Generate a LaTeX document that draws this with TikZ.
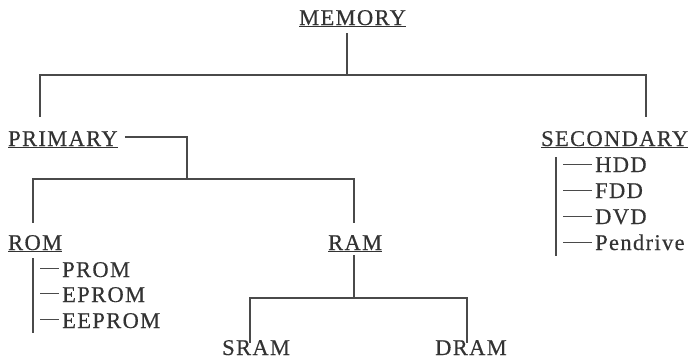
\documentclass[tikz,border=0pt]{standalone}
\usepackage{fontspec}
\usepackage{xcolor}
\usepackage{tikz}
\usetikzlibrary{calc}
\newfontfamily\lblfont{Liberation Serif}[LetterSpace=6, FakeBold=0.4]
\definecolor{inkgray}{HTML}{333333}
\definecolor{linegray}{HTML}{4A4A4A}
\newcommand{\hdline}[1]{\setbox0=\hbox{#1}\rlap{\rule[-2.2pt]{\wd0}{0.9pt}}\box0}

\tikzset{
	lbl/.style={text=inkgray, font=\lblfont\fontsize{22.5}{27}\selectfont, inner sep=0pt, anchor=base west},
	link/.style={draw=linegray, line width=1.1pt},
}

\begin{document}
\begin{tikzpicture}[x=1pt, y=-1pt]
	\path[use as bounding box, fill=white] (0,0) rectangle (698,359);

	% headings
	\node[lbl] (mem) at (299,25) {\hdline{MEMORY}};
	\node[lbl] (pri) at (8,146) {\hdline{PRIMARY}};
	\node[lbl] (sec) at (541,146) {\hdline{SECONDARY}};
	\node[lbl] (rom) at (8,250) {\hdline{ROM}};
	\node[lbl] (ram) at (328,250) {\hdline{RAM}};

	% leaves
	\node[lbl] (prom) at (62,277) {PROM};
	\node[lbl] (eprom) at (62,302) {EPROM};
	\node[lbl] (eeprom) at (62,328) {EEPROM};
	\node[lbl] (sram) at (222,355) {SRAM};
	\node[lbl] (dram) at (435,355) {DRAM};
	\node[lbl] (hdd) at (595,172) {HDD};
	\node[lbl] (fdd) at (595,198) {FDD};
	\node[lbl] (dvd) at (595,224) {DVD};
	\node[lbl] (pen) at (595,250) {Pendrive};

	\coordinate (hub) at (347,75);
	\coordinate (pl) at (40,75);
	\coordinate (pr) at (646,75);
	\coordinate (pb) at (187,179);
	\coordinate (rx) at (33,0);
	\coordinate (rb) at (354,298);
	\coordinate (sl) at (250,0);
	\coordinate (sr) at (467,0);
	\coordinate (sx) at (556,0);

	\draw[link, shorten <=5.8pt] (hub |- mem.south) -- (hub);
	\draw[link, shorten >=14pt] (hub) -| (pl |- pri.north);
	\draw[link, shorten >=14pt] (hub) -| (pr |- sec.north);

	\draw[link, shorten <=7pt] ([yshift=2.7pt]pri.east) -| (pb);
	\draw[link, shorten >=12pt] (pb) -| (rom.north -| rx);
	\draw[link, shorten >=12pt] (pb) -| (ram.north -| rb);

	% ROM list
	\draw[link, shorten <=5.8pt] (rom.south -| rx) -- ++(0,81);
	\foreach \n in {prom, eprom, eeprom}
		\draw[link, shorten <=7pt, shorten >=3pt] ([yshift=1.5pt]\n.west -| rx) -- ([yshift=1.5pt]\n.west);

	% RAM split
	\draw[link, shorten <=3pt] (ram.south -| rb) -- (rb);
	\draw[link, shorten >=-3pt] (rb) -| (sram.north -| sl);
	\draw[link, shorten >=-3pt] (rb) -| (dram.north -| sr);

	% SECONDARY list
	\draw[link, shorten <=8.8pt, shorten >=-6pt] (sec.south -| sx) -- (pen.south -| sx);
	\foreach \n in {hdd, fdd, dvd, pen}
		\draw[link, shorten <=7pt, shorten >=3pt] (\n.west -| sx) -- (\n.west);

\end{tikzpicture}
\end{document}
